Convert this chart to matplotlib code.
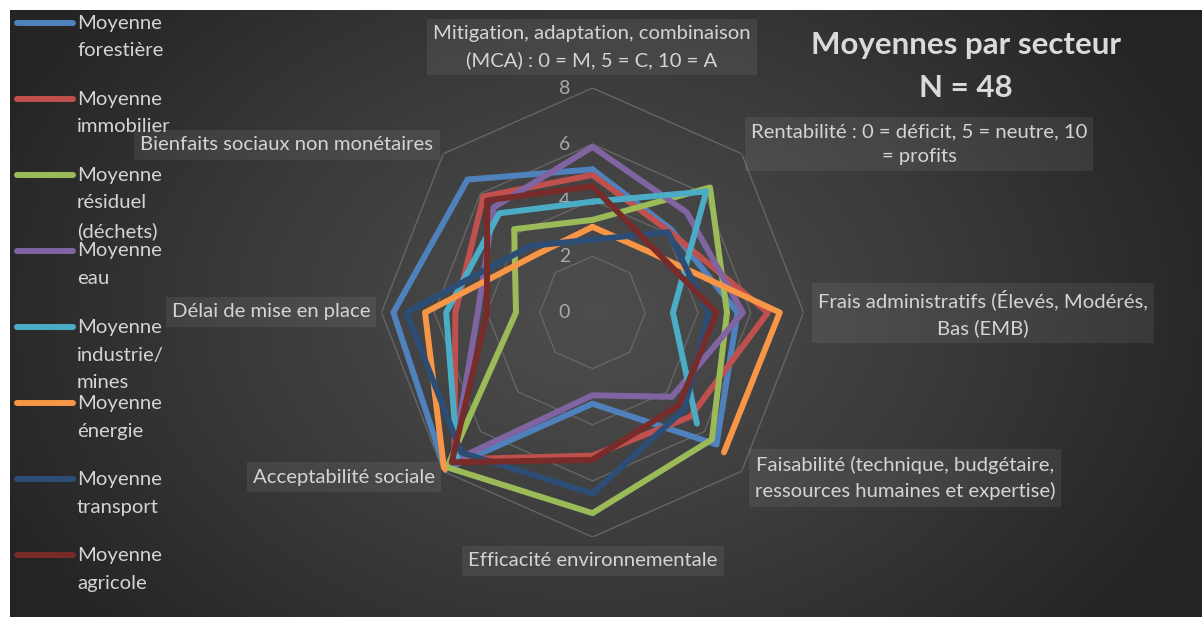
import numpy as np
import matplotlib
matplotlib.use("Agg")
import matplotlib.pyplot as plt
from matplotlib.lines import Line2D

plt.rcParams['font.family'] = ['Lato', 'DejaVu Sans']

# ---------------- data ----------------
categories = [
    "Mitigation, adaptation, combinaison\n(MCA) : 0 = M, 5 = C, 10 = A",
    "Rentabilité : 0 = déficit, 5 = neutre, 10\n= profits",
    "Frais administratifs (Élevés, Modérés,\nBas (EMB)",
    "Faisabilité (technique, budgétaire,\nressources humaines et expertise)",
    "Efficacité environnementale",
    "Acceptabilité sociale",
    "Délai de mise en place",
    "Bienfaits sociaux non monétaires",
]
series_names = [
    "Moyenne\nforestière",
    "Moyenne\nimmobilier",
    "Moyenne\nrésiduel\n(déchets)",
    "Moyenne\neau",
    "Moyenne\nindustrie/\nmines",
    "Moyenne\nénergie",
    "Moyenne\ntransport",
    "Moyenne\nagricole",
]
forestiere = [5.1, 4.2, 5.5, 6.65, 3.25, 7.9, 7.55, 6.7]
immobilier = [4.9, 4.1, 6.65, 5.25, 5.1, 7.4, 5.2, 5.85]
residuel = [3.3, 6.3, 5.1, 6.4, 7.15, 7.8, 2.9, 4.2]
eau = [5.9, 5.05, 5.7, 4.25, 2.95, 7.5, 4.35, 5.3]
industrie = [3.95, 6.1, 3.05, 5.6, None, 7.25, 5.55, 5.0]
energie = [3.05, 3.05, 7.1, 7.05, None, 7.95, 6.35, 2.95]
transport = [2.6, 4.05, 4.4, 4.9, 6.45, 7.05, 7.05, 3.35]
agricole = [4.5, 3.25, 4.7, 4.65, 5.25, 7.55, 4.0, 5.65]
series_values = [forestiere, immobilier, residuel, eau, industrie, energie, transport, agricole]
colors = ["#4F81BD", "#C0504D", "#9BBB59", "#8064A2", "#4BACC6", "#F79646", "#2C4D75", "#772C2A"]
r_ticks = [0, 2, 4, 6, 8]
title = "Moyennes par secteur\nN = 48"

# ---------------- figure ----------------
W, H = 1202, 617
fig = plt.figure(figsize=(W / 100, H / 100), dpi=100, facecolor="white")

def fx(x):
    return x / W

def fy(y):
    return 1 - y / H

# background with radial gradient
bg = fig.add_axes([fx(10), 0, 1 - fx(10), fy(10)])
bg.set_axis_off()
gx = np.linspace(10, W, 400)
gy = np.linspace(10, H, 220)
XX, YY = np.meshgrid(gx, gy)
d = np.sqrt(((XX - 593) / 650) ** 2 + ((YY - 312) / 480) ** 2)
d = np.clip(d, 0, 1)
c0, c1 = 0.30, 0.145
img = c0 + (c1 - c0) * d ** 1.2
bg.imshow(np.dstack([img, img, img]), aspect="auto", extent=[0, 1, 0, 1], interpolation="bilinear")
bg.set_xlim(0, 1)
bg.set_ylim(0, 1)

# radar axes
cx, cy, rx, ry = 592.5, 312.5, 211, 224.5
ax = fig.add_axes([fx(cx - rx), fy(cy + ry), 2 * rx / W, 2 * ry / H], projection="polar")
ax.set_aspect("auto")
ax.patch.set_alpha(0)
ax.set_theta_zero_location("N")
ax.set_theta_direction(-1)
ax.set_ylim(0, 8)
ax.grid(False)
ax.spines["polar"].set_visible(False)
ax.set_xticks([])
ax.set_yticks([])

n = len(categories)
theta = np.arange(n) * 2 * np.pi / n
theta_closed = np.append(theta, theta[0])

# octagonal grid
for rv in r_ticks[1:]:
    ax.plot(theta_closed, [rv] * (n + 1), color="#656565", lw=1.0, zorder=1)

for rv in r_ticks:
    ax.annotate(str(rv), xy=(0, rv), xytext=(-28, 0), textcoords="offset pixels",
                ha="center", va="center", fontsize=14, color="#a8a8a8", zorder=2)

for vals, col in zip(series_values, colors):
    v = np.array([np.nan if x is None else x for x in vals], dtype=float)
    v = np.append(v, v[0])
    ax.plot(theta_closed, v, color=col, lw=4.3, solid_joinstyle="round",
            solid_capstyle="round", zorder=3)

# category labels (pixel positions of the label centers)
label_pos = [
    (592, 47), (919, 144), (983, 313), (905, 478),
    (593, 561), (344, 477), (271, 312), (287, 145),
]
for text, (lx, ly) in zip(categories, label_pos):
    fig.text(fx(lx), fy(ly), text, ha="center", va="center", fontsize=14.6,
             color="#d4d4d4", linespacing=1.58,
             bbox=dict(boxstyle="square,pad=0.3", facecolor="white", alpha=0.07, edgecolor="none"))

# title
fig.text(fx(966), fy(66.5), title, ha="center", va="center", fontsize=22.5,
         fontweight="bold", color="#dadada", linespacing=1.65)

# legend (manual layout)
for i, (name, col) in enumerate(zip(series_names, colors)):
    y1 = 23 + 76 * i
    fig.add_artist(Line2D([fx(17), fx(73)], [fy(y1), fy(y1)], color=col, lw=4.3,
                          solid_capstyle="round", transform=fig.transFigure))
    for k, line in enumerate(name.split("\n")):
        fig.text(fx(77), fy(y1 + 28 * k), line, ha="left", va="center",
                 fontsize=14.6, color="#d4d4d4")

fig.savefig("out.png", dpi=100, facecolor="white")
